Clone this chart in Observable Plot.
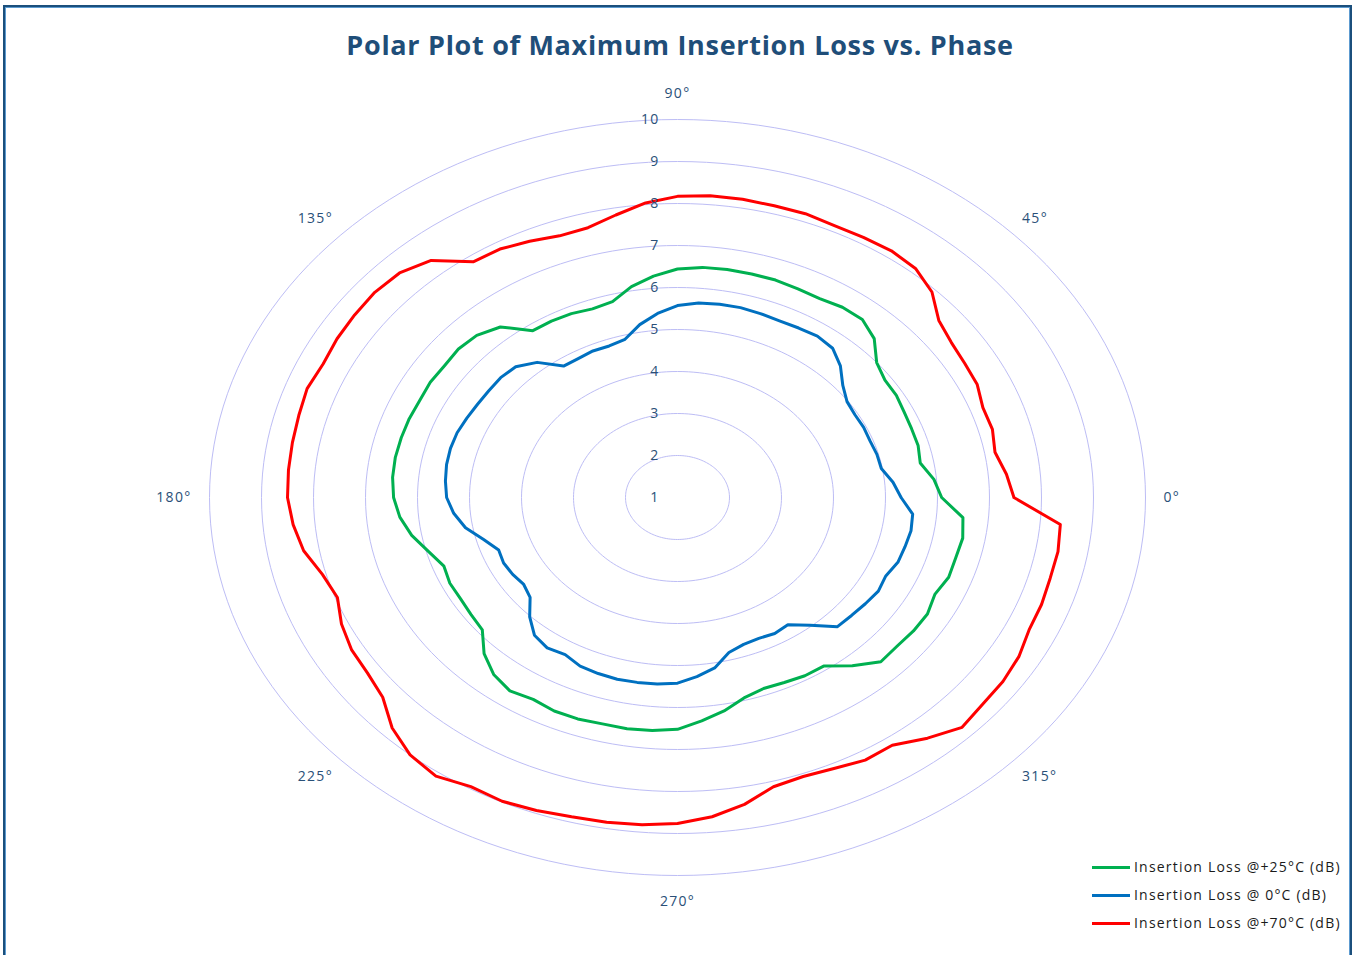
<!DOCTYPE html>
<html>
<head>
<meta charset="utf-8">
<script src="https://cdn.jsdelivr.net/npm/d3@7"></script>
<script src="https://cdn.jsdelivr.net/npm/@observablehq/plot@0.6"></script>
<style>
  body { margin: 0; background: #fff; font-family: "Open Sans", sans-serif; }
  #wrap { position: relative; width: 1352px; height: 955px; overflow: hidden; background: #fff; }
  #frame { position: absolute; left: 3px; top: 5px; width: 1349px; height: 1000px; border: 2px solid #1b4f7c; box-sizing: border-box;
           box-shadow: inset 1px 1px 0 #5d9bd0, inset -1px 0 0 #5d9bd0; pointer-events: none; }
  #title { position: absolute; top: 31px; left: 0; width: 1360px; text-align: center; font-weight: 700; font-size: 27px; line-height: 27px; letter-spacing: 0.7px; color: #1f4e79; }
  #chart { position: absolute; left: 0; top: 75px; }
  #chart svg text { letter-spacing: 1.3px; }
  #legend { position: absolute; left: 1092px; top: 853px; font-size: 14px; letter-spacing: 1.2px; color: #1a1a1a; }
  .row { height: 28px; line-height: 28px; white-space: nowrap; }
  .sw { display: inline-block; width: 38px; height: 3px; vertical-align: middle; margin-right: 4px; position: relative; top: -1px; }
</style>
</head>
<body>
<div id="wrap">
  <div id="title">Polar Plot of Maximum Insertion Loss vs. Phase</div>
  <div id="chart"></div>
  <div id="legend"></div>
  <div id="frame"></div>
</div>
<script>
// Phase angles (degrees)
const angles = [0,5,10,15,20,25,30,35,40,45,50,55,60,65,70,75,80,85,90,95,100,105,110,115,
  120,125,130,135,140,145,150,155,160,165,170,175,180,185,190,195,200,205,210,215,220,225,230,235,
  240,245,250,255,260,265,270,275,280,285,290,295,300,305,310,315,320,325,330,335,340,345,350,355];

// Insertion loss @ +25°C (dB)
const loss25 = [6.08,5.95,5.74,5.79,5.79,5.81,5.86,5.87,6.00,6.35,6.53,6.53,6.47,6.48,6.51,6.51,6.51,6.50,6.44,6.29,6.10,5.83,5.78,5.83,
  5.85,5.85,6.30,6.46,6.50,6.47,6.49,6.47,6.49,6.50,6.51,6.50,6.46,6.36,6.19,5.96,5.78,5.83,5.82,5.85,5.90,6.26,6.50,6.62,
  6.55,6.61,6.61,6.58,6.59,6.57,6.52,6.34,6.16,5.94,5.84,5.86,5.90,5.90,6.23,6.53,6.51,6.54,6.55,6.46,6.55,6.54,6.57,6.51];

// Insertion loss @ 0°C (dB)
const loss0 = [5.30,5.16,4.98,4.97,4.94,4.95,4.94,4.98,5.15,5.43,5.64,5.69,5.66,5.64,5.66,5.68,5.67,5.65,5.57,5.40,5.18,4.90,4.84,4.85,
  4.82,4.82,5.20,5.40,5.44,5.43,5.44,5.47,5.51,5.52,5.51,5.48,5.44,5.32,5.14,4.86,4.66,4.69,4.66,4.61,4.70,5.02,5.28,5.37,
  5.32,5.43,5.46,5.48,5.47,5.46,5.42,5.28,5.12,4.82,4.72,4.70,4.74,4.70,4.97,5.35,5.37,5.41,5.46,5.42,5.51,5.53,5.56,5.54];

// Insertion loss @ +70°C (dB)
const loss70 = [7.47,7.35,7.20,7.27,7.25,7.36,7.38,7.43,7.56,7.92,8.12,8.17,8.15,8.14,8.19,8.19,8.21,8.21,8.17,8.04,7.83,7.65,7.63,7.73,
  7.83,7.85,8.37,8.56,8.60,8.58,8.56,8.52,8.58,8.54,8.52,8.51,8.50,8.42,8.30,8.07,7.96,8.13,8.24,8.28,8.40,8.76,9.00,9.10,
  8.95,8.98,8.93,8.87,8.85,8.82,8.76,8.63,8.42,8.13,8.07,8.12,8.22,8.20,8.48,8.74,8.66,8.64,8.58,8.46,8.45,8.42,8.43,8.39];

const seriesNames = ["Insertion Loss @+25°C (dB)", "Insertion Loss @ 0°C (dB)", "Insertion Loss @+70°C (dB)"];
const seriesColors = ["#00B050", "#0070C0", "#FF0000"];
const ringValues = [1,2,3,4,5,6,7,8,9,10];
const angleTicks = [0,45,90,135,180,225,270,315];
const angleLabels = ["0°","45°","90°","135°","180°","225°","270°","315°"];

const rMin = ringValues[0];
const rMax = ringValues[ringValues.length - 1];
const span = rMax - rMin;
const rad = d => d * Math.PI / 180;
const toXY = (deg, r) => ({ x: (r - rMin) * Math.cos(rad(deg)), y: (r - rMin) * Math.sin(rad(deg)) });

// polar -> cartesian rows for the three series (closed loops)
const rows = [];
[loss25, loss0, loss70].forEach((vals, i) => {
  angles.forEach((a, j) => rows.push({ series: seriesNames[i], ...toXY(a, vals[j]) }));
  rows.push({ series: seriesNames[i], ...toXY(angles[0], vals[0]) });
});

// circular grid rings
const ringRows = [];
ringValues.filter(v => v > rMin).forEach(v => {
  for (let a = 0; a <= 360; a += 2) ringRows.push({ ring: v, ...toXY(a, v) });
});

// angle labels just outside the outer ring
const pxX = 936 / (2 * span), pxY = 756 / (2 * span);
const angleRows = angleTicks.map((a, i) => {
  const c = Math.cos(rad(a)), s = Math.sin(rad(a));
  const p = toXY(a, rMax);
  const offX = 18 * Math.sign(Math.round(c * 1000)) * Math.pow(Math.abs(c), 0.8);
  const offY = 26 * Math.sign(Math.round(s * 1000)) * Math.pow(Math.abs(s), 2.2);
  const anchor = c > 0.1 ? "start" : c < -0.1 ? "end" : "middle";
  return { label: angleLabels[i], anchor, x: p.x + offX / pxX, y: p.y + offY / pxY };
});

const angleText = anchor => Plot.text(angleRows.filter(d => d.anchor === anchor),
  { x: "x", y: "y", text: "label", textAnchor: anchor, fill: "#2a5078", fontSize: 14 });

const chart = Plot.plot({
  width: 1352,
  height: 880,
  marginLeft: 209,
  marginRight: 207,
  marginTop: 44,
  marginBottom: 80,
  style: { fontFamily: "'Open Sans', sans-serif", fontSize: "14px", background: "transparent" },
  x: { domain: [-span, span], axis: null },
  y: { domain: [-span, span], axis: null },
  color: { domain: seriesNames, range: seriesColors },
  marks: [
    Plot.line(ringRows, { x: "x", y: "y", z: "ring", stroke: "#bdbdf5", strokeWidth: 1 }),
    Plot.line(rows, { x: "x", y: "y", z: "series", stroke: "series", strokeWidth: 3, strokeLinejoin: "round", curve: "linear" }),
    Plot.text(ringValues, { x: () => 0, y: d => d - rMin, text: d => String(d), textAnchor: "end", dx: -18, fill: "#2a5078", fontSize: 14 }),
    angleText("start"),
    angleText("middle"),
    angleText("end")
  ]
});
document.getElementById("chart").appendChild(chart);

const legend = document.getElementById("legend");
seriesNames.forEach((name, i) => {
  const row = document.createElement("div");
  row.className = "row";
  const sw = document.createElement("span");
  sw.className = "sw";
  sw.style.background = seriesColors[i];
  row.appendChild(sw);
  row.appendChild(document.createTextNode(name));
  legend.appendChild(row);
});
</script>
</body>
</html>
